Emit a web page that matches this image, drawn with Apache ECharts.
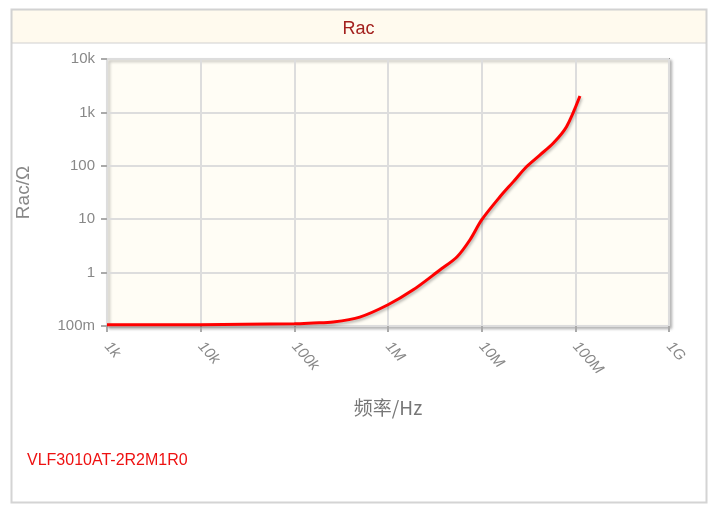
<!DOCTYPE html>
<html lang="en">
<head>
    <meta charset="UTF-8">
    <title>Rac</title>
    <script src="https://cdn.jsdelivr.net/npm/echarts@6/dist/echarts.min.js"></script>
    <style>
        html, body { margin: 0; padding: 0; background: #fff; }
    </style>
</head>
<body>
<div id="main" style="width:717px; height:507px"></div>

<script type="text/javascript">
    // 数据 (频率 Hz / 交流电阻 Ω)
    var freqHz = [1e3, 3e3, 1e4, 3e4, 1e5, 1.6e5, 2.6e5, 5e5, 1e6, 1.84e6, 3.58e6, 5.44e6, 7.48e6, 1e7, 1.56e7, 2.17e7, 3.01e7, 4.18e7, 5.8e7, 8.05e7, 1.12e8];
    var racOhm = [0.105, 0.105, 0.106, 0.108, 0.11, 0.114, 0.119, 0.147, 0.25, 0.47, 1.12, 1.96, 4.08, 9.7, 26, 50, 96, 159, 264, 540, 2030];

    // 刻度标签
    var xTickLabels = ['1k', '10k', '100k', '1M', '10M', '100M', '1G'];
    var yTickLabels = ['100m', '1', '10', '100', '1k', '10k'];

    var chartDom = document.getElementById('main');
    var myChart = echarts.init(chartDom);

    var seriesData = freqHz.map(function (f, i) { return [f, racOhm[i]]; });

    var option = {
        backgroundColor: '#fff',
        animation: false,
        title: {
            text: 'Rac',
            left: 'center',
            top: 15,
            textStyle: { color: '#a3201e', fontSize: 18, fontWeight: 'normal', fontFamily: 'Liberation Sans Narrow, Liberation Sans' }
        },
        graphic: [
            { type: 'rect', z: -10, shape: { x: 11.5, y: 9.5, width: 695, height: 493 },
              style: { fill: '#fff', stroke: '#d4d4d4', lineWidth: 2 } },
            { type: 'rect', z: -9, shape: { x: 12, y: 10, width: 694, height: 33 },
              style: { fill: '#fffaee', stroke: '#d0d0d0', lineWidth: 1 } },
            { type: 'text', left: 27, top: 453,
              style: { text: 'VLF3010AT-2R2M1R0', fill: '#ee1111', fontSize: 16, fontFamily: 'Liberation Sans' } }
        ],
        grid: {
            left: 107, right: 48, top: 59, bottom: 181,
            show: true,
            backgroundColor: '#fffdf5',
            borderColor: '#999',
            borderWidth: 2,
            shadowColor: 'rgba(0,0,0,0.25)',
            shadowBlur: 3,
            shadowOffsetX: 2,
            shadowOffsetY: 2
        },
        xAxis: {
            type: 'log',
            logBase: 10,
            min: 1e3,
            max: 1e9,
            name: '频率/Hz',
            nameLocation: 'middle',
            nameGap: 72,
            nameTextStyle: { color: '#777', fontSize: 19, fontFamily: 'Noto Sans CJK SC' },
            axisLine: { show: false },
            axisTick: { show: true, length: 6, lineStyle: { color: '#aaa', width: 2 } },
            splitLine: { show: true, lineStyle: { color: '#ddd', width: 2 } },
            minorTick: { show: false },
            axisLabel: {
                rotate: -48,
                margin: 18,
                color: '#888',
                fontSize: 15,
                fontStyle: 'italic',
                fontFamily: 'Liberation Sans Narrow, Liberation Sans',
                formatter: function (v) {
                    return xTickLabels[Math.round(Math.log10(v)) - 3];
                }
            }
        },
        yAxis: {
            type: 'log',
            logBase: 10,
            min: 0.1,
            max: 1e4,
            name: 'Rac/Ω',
            nameLocation: 'middle',
            nameGap: 74,
            nameTextStyle: { color: '#888', fontSize: 19, fontFamily: 'Liberation Sans' },
            axisLine: { show: false },
            axisTick: { show: true, length: 6, lineStyle: { color: '#aaa', width: 2 } },
            splitLine: { show: true, lineStyle: { color: '#ddd', width: 2 } },
            axisLabel: {
                margin: 12,
                color: '#888',
                fontSize: 15,
                fontFamily: 'Liberation Sans Narrow, Liberation Sans',
                formatter: function (v) {
                    return yTickLabels[Math.round(Math.log10(v)) + 1];
                }
            }
        },
        series: [
            {
                type: 'line',
                data: seriesData,
                smooth: 0.3,
                symbol: 'none',
                lineStyle: {
                    color: '#ff0000',
                    width: 3,
                    shadowColor: 'rgba(0,0,0,0.3)',
                    shadowBlur: 3,
                    shadowOffsetX: 1,
                    shadowOffsetY: 2
                }
            }
        ]
    };

    myChart.setOption(option);
</script>
</body>
</html>
